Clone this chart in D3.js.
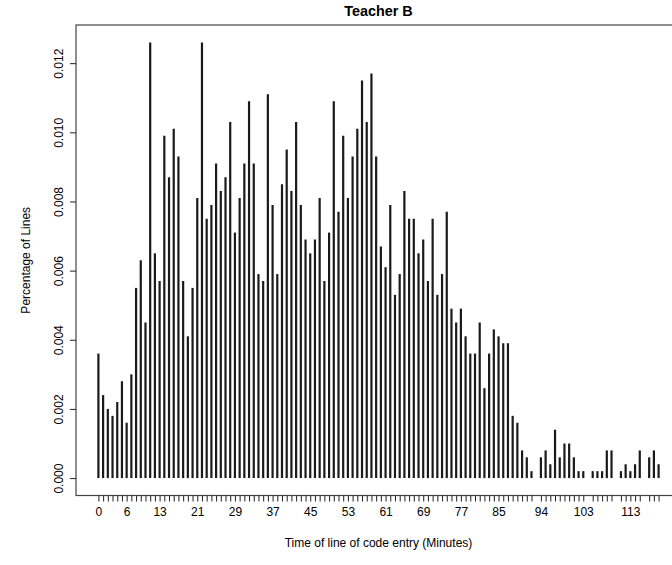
<!DOCTYPE html>
<html>
<head>
<meta charset="utf-8">
<script src="https://cdn.jsdelivr.net/npm/d3@7"></script>
<style>
  html, body { margin: 0; padding: 0; background: #fff; }
  svg { display: block; font-family: "Liberation Sans", Arial, Helvetica, sans-serif; }
</style>
</head>
<body>
<div id="chart"></div>
<script>
// ---- Data ----
const minutes = [
  0,1,2,3,4,5,6,7,8,9,10,11,12,13,14,15,16,17,18,19,
  20,21,22,23,24,25,26,27,28,29,30,31,32,33,34,35,36,37,38,39,
  40,41,42,43,44,45,46,47,48,49,50,51,52,53,54,55,56,57,58,59,
  60,61,62,63,64,65,66,67,68,69,70,71,72,73,74,75,76,77,78,79,
  80,81,82,83,84,85,86,87,88,89,90,91,92,94,95,96,97,98,99,
  100,101,102,103,105,106,107,108,109,111,112,113,114,115,117,118,119
];
const shares = [
  0.0036,0.0024,0.0020,0.0018,0.0022,0.0028,0.0016,0.0030,0.0055,0.0063,
  0.0045,0.0126,0.0065,0.0057,0.0099,0.0087,0.0101,0.0093,0.0057,0.0041,
  0.0055,0.0081,0.0126,0.0075,0.0079,0.0091,0.0083,0.0087,0.0103,0.0071,
  0.0081,0.0091,0.0109,0.0091,0.0059,0.0057,0.0111,0.0079,0.0059,0.0085,
  0.0095,0.0083,0.0103,0.0079,0.0069,0.0065,0.0069,0.0081,0.0057,0.0071,
  0.0109,0.0077,0.0099,0.0081,0.0093,0.0101,0.0115,0.0103,0.0117,0.0093,
  0.0067,0.0061,0.0079,0.0053,0.0059,0.0083,0.0075,0.0075,0.0065,0.0069,
  0.0057,0.0075,0.0053,0.0059,0.0077,0.0049,0.0045,0.0049,0.0041,0.0036,
  0.0036,0.0045,0.0026,0.0036,0.0043,0.0041,0.0039,0.0039,0.0018,0.0016,
  0.0008,0.0006,0.0002,0.0006,0.0008,0.0004,0.0014,0.0006,0.0010,
  0.0010,0.0006,0.0002,0.0002,0.0002,0.0002,0.0002,0.0008,0.0008,0.0002,
  0.0004,0.0002,0.0004,0.0008,0.0006,0.0008,0.0004
];
const xTickLabels = [0,6,13,21,29,37,45,53,61,69,77,85,94,103,113];
const yTicks = [0.000,0.002,0.004,0.006,0.008,0.010,0.012];
const title = "Teacher B";
const xTitle = "Time of line of code entry (Minutes)";
const yTitle = "Percentage of Lines";

// ---- Layout ----
const W = 672, H = 565;
const plot = { left: 76, right: 681, top: 25, bottom: 495.5 };

const svg = d3.select("#chart").append("svg")
  .attr("width", W).attr("height", H)
  .style("overflow", "hidden");

const xMin = d3.min(minutes), xMax = d3.max(minutes);
const xPad = (xMax - xMin) * 0.04;
const x = d3.scaleLinear().domain([xMin - xPad, xMax + xPad]).range([plot.left, plot.right]);

const yMax = d3.max(shares);
const y = d3.scaleLinear().domain([-yMax * 0.04, yMax * 1.04]).range([plot.bottom, plot.top]);

const data = minutes.map((m, i) => ({ m, v: shares[i] }));

// bars (type "h")
svg.append("g").selectAll("line").data(data).join("line")
  .attr("x1", d => x(d.m)).attr("x2", d => x(d.m))
  .attr("y1", y(0)).attr("y2", d => y(d.v))
  .attr("stroke", "#1a1a1a").attr("stroke-width", 2.2);

// box
svg.append("rect")
  .attr("x", plot.left).attr("y", plot.top)
  .attr("width", plot.right - plot.left).attr("height", plot.bottom - plot.top)
  .attr("fill", "none").attr("stroke", "#444").attr("stroke-width", 1.2);

// x axis
const xAxis = d3.axisBottom(x).tickValues(minutes).tickSize(6).tickSizeOuter(0)
  .tickFormat(d => xTickLabels.includes(d) ? String(d) : "");
const gx = svg.append("g").attr("transform", `translate(0,${plot.bottom})`).call(xAxis);
gx.select(".domain").remove();
gx.selectAll(".tick line").attr("stroke", "#222");
gx.selectAll(".tick text").attr("y", 12).attr("dy", "0.71em")
  .attr("font-size", 12).attr("fill", "#000")
  .attr("font-family", "'Liberation Sans', Arial, sans-serif");

// y axis
const yAxis = d3.axisLeft(y).tickValues(yTicks).tickSize(6).tickSizeOuter(0)
  .tickFormat(d3.format(".3f"));
const gy = svg.append("g").attr("transform", `translate(${plot.left},0)`).call(yAxis);
gy.select(".domain").remove();
gy.selectAll(".tick line").attr("stroke", "#222");
gy.selectAll(".tick text")
  .attr("x", null).attr("dy", null)
  .attr("transform", "translate(-13,0) rotate(-90)")
  .attr("text-anchor", "middle")
  .attr("font-size", 12).attr("fill", "#000")
  .attr("font-family", "'Liberation Sans', Arial, sans-serif");

// titles
svg.append("text")
  .attr("x", (plot.left + plot.right) / 2).attr("y", 16)
  .attr("text-anchor", "middle").attr("font-weight", "bold").attr("font-size", 14.4)
  .text(title);

svg.append("text")
  .attr("x", (plot.left + plot.right) / 2).attr("y", 547)
  .attr("text-anchor", "middle").attr("font-size", 12)
  .text(xTitle);

svg.append("text")
  .attr("transform", `translate(30,${(plot.top + plot.bottom) / 2}) rotate(-90)`)
  .attr("text-anchor", "middle").attr("font-size", 12)
  .text(yTitle);
</script>
</body>
</html>
